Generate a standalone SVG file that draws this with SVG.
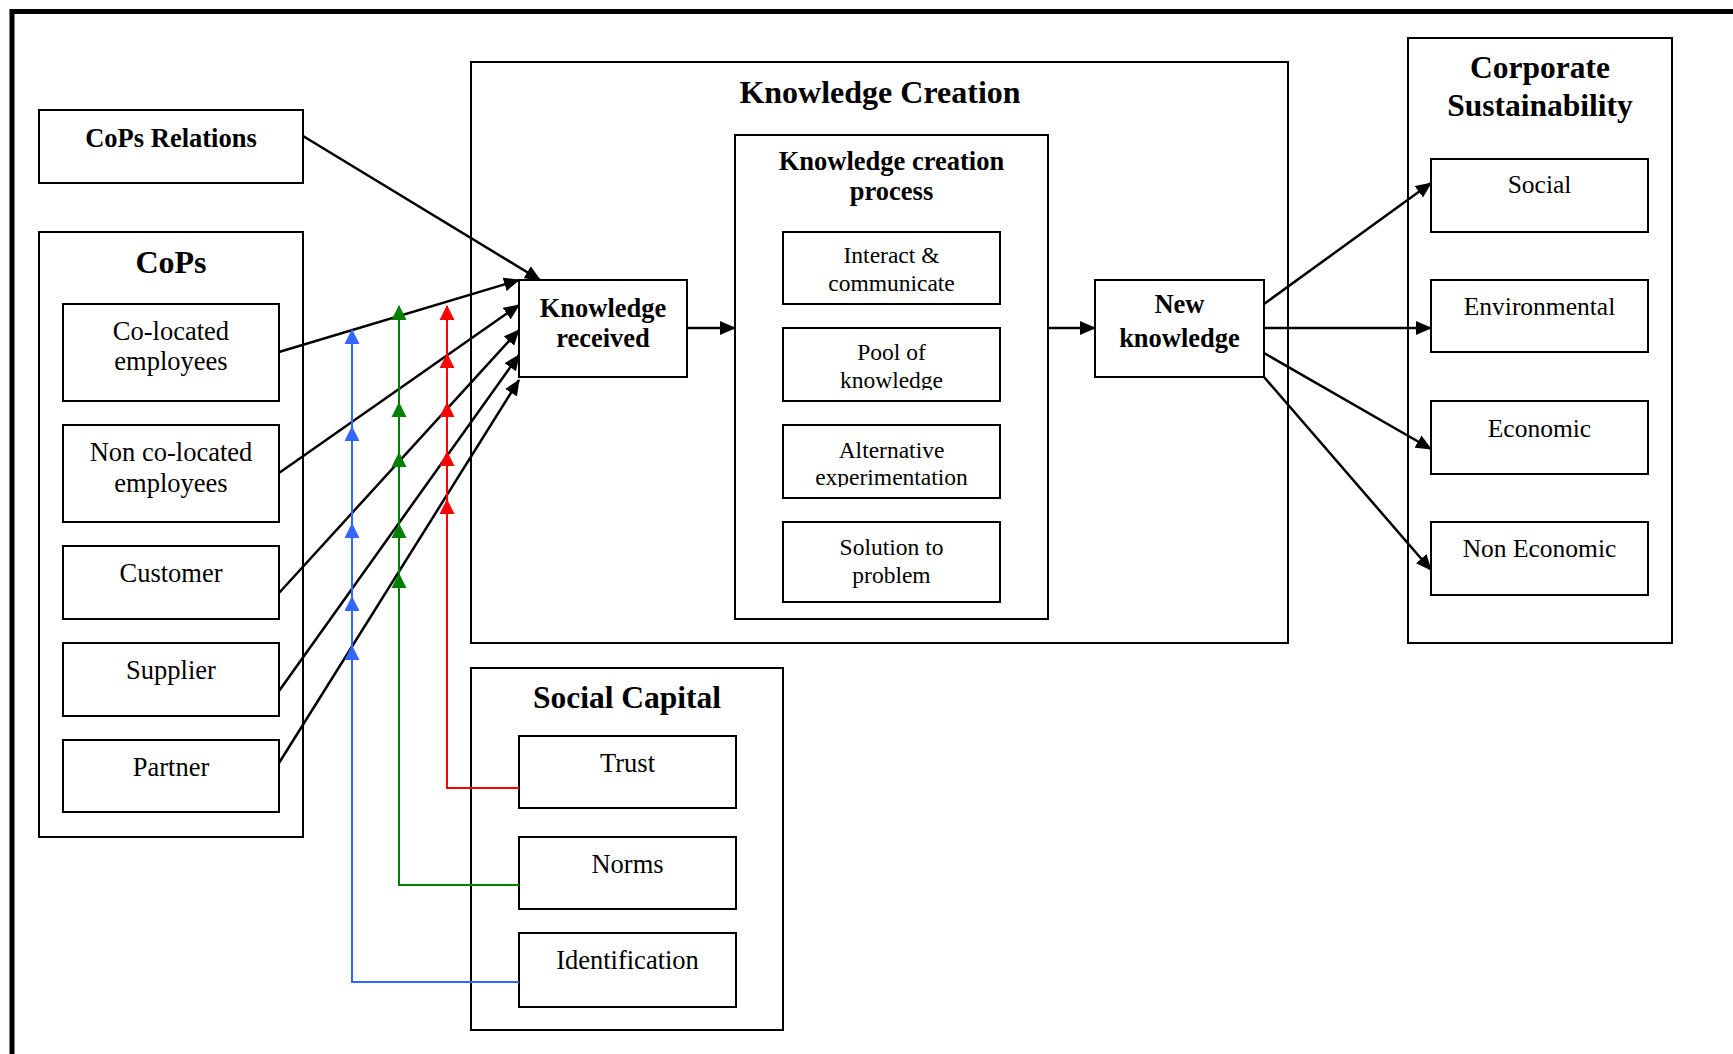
<svg xmlns="http://www.w3.org/2000/svg" xmlns:xlink="http://www.w3.org/1999/xlink" width="1733" height="1054" viewBox="0 0 1733 1054">
  <style>
    .box { fill: #fff; stroke: #000; stroke-width: 2; }
    .frame { fill: none; stroke: #000; stroke-width: 2; }
    .t { font-family: "Liberation Serif", "Times New Roman", serif; fill: #000; text-anchor: middle; }
    .b { font-weight: bold; }
    .conn { fill: none; stroke: #000; stroke-width: 2.5; marker-end: url(#ah); }
    .red { fill: none; stroke: #ff0000; stroke-width: 2; }
    .green { fill: none; stroke: #008000; stroke-width: 2; }
    .blue { fill: none; stroke: #3366ff; stroke-width: 2; }
  </style>
  <defs>
    <marker id="ah" markerUnits="userSpaceOnUse" markerWidth="16" markerHeight="14" refX="15" refY="7" orient="auto">
      <path d="M0,0 L16,7 L0,14 z" fill="#000"/>
    </marker>
    <!-- upward arrowhead, tip at origin -->
    <path id="up" d="M0,0 L-7.5,15 L7.5,15 z"/>
    <clipPath id="clipPool"><rect x="783" y="328" width="217" height="62"/></clipPath>
    <clipPath id="clipAlt"><rect x="783" y="425" width="217" height="62"/></clipPath>
  </defs>

  <rect width="1733" height="1054" fill="#fff"/>

  <!-- page frame -->
  <path d="M12,1060 L12,11.5 L1740,11.5" fill="none" stroke="#000" stroke-width="5"/>

  <!-- CoPs Relations -->
  <g id="cops-relations">
    <rect class="box" x="39" y="110" width="264" height="73"/>
    <text class="t b" x="171" y="147" font-size="26.5">CoPs Relations</text>
  </g>

  <!-- CoPs group -->
  <g id="cops">
    <rect class="frame" x="39" y="232" width="264" height="605"/>
    <text class="t b" x="171" y="273" font-size="32">CoPs</text>
  </g>
  <g id="co-located">
    <rect class="box" x="63" y="304" width="216" height="97"/>
    <text class="t" x="171" y="340" font-size="26.5">Co-located</text>
    <text class="t" x="171" y="370" font-size="26.5">employees</text>
  </g>
  <g id="non-co-located">
    <rect class="box" x="63" y="425" width="216" height="97"/>
    <text class="t" x="171" y="461" font-size="26.5">Non co-located</text>
    <text class="t" x="171" y="492" font-size="26.5">employees</text>
  </g>
  <g id="customer">
    <rect class="box" x="63" y="546" width="216" height="73"/>
    <text class="t" x="171" y="582" font-size="26.5">Customer</text>
  </g>
  <g id="supplier">
    <rect class="box" x="63" y="643" width="216" height="73"/>
    <text class="t" x="171" y="679" font-size="26.5">Supplier</text>
  </g>
  <g id="partner">
    <rect class="box" x="63" y="740" width="216" height="72"/>
    <text class="t" x="171" y="776" font-size="26.5">Partner</text>
  </g>

  <!-- Knowledge Creation group -->
  <g id="knowledge-creation">
    <rect class="frame" x="471" y="62" width="817" height="581"/>
    <text class="t b" x="880" y="103" font-size="32">Knowledge Creation</text>
  </g>
  <g id="knowledge-received">
    <rect class="box" x="519" y="280" width="168" height="97" stroke-width="2.5"/>
    <text class="t b" x="603" y="317" font-size="26.5">Knowledge</text>
    <text class="t b" x="603" y="347" font-size="26.5">received</text>
  </g>
  <g id="creation-process">
    <rect class="frame" x="735" y="135" width="313" height="484"/>
    <text class="t b" x="891.5" y="170" font-size="26.5">Knowledge creation</text>
    <text class="t b" x="891.5" y="200" font-size="26.5">process</text>
  </g>
  <g id="interact">
    <rect class="box" x="783" y="232" width="217" height="72"/>
    <text class="t" x="891.5" y="263" font-size="23.5">Interact &amp;</text>
    <text class="t" x="891.5" y="291" font-size="23.5">communicate</text>
  </g>
  <g id="pool">
    <rect class="box" x="783" y="328" width="217" height="73"/>
    <g clip-path="url(#clipPool)">
      <text class="t" x="891.5" y="360" font-size="23.5">Pool of</text>
      <text class="t" x="891.5" y="388" font-size="23.5">knowledge</text>
    </g>
  </g>
  <g id="alternative">
    <rect class="box" x="783" y="425" width="217" height="73"/>
    <g clip-path="url(#clipAlt)">
      <text class="t" x="891.5" y="458" font-size="23.5">Alternative</text>
      <text class="t" x="891.5" y="485" font-size="23.5">experimentation</text>
    </g>
  </g>
  <g id="solution">
    <rect class="box" x="783" y="522" width="217" height="80"/>
    <text class="t" x="891.5" y="555" font-size="23.5">Solution to</text>
    <text class="t" x="891.5" y="583" font-size="23.5">problem</text>
  </g>
  <g id="new-knowledge">
    <rect class="box" x="1095" y="280" width="169" height="97"/>
    <text class="t b" x="1179.5" y="313" font-size="26.5">New</text>
    <text class="t b" x="1179.5" y="347" font-size="26.5">knowledge</text>
  </g>

  <!-- Corporate Sustainability group -->
  <g id="corporate-sustainability">
    <rect class="frame" x="1408" y="38" width="264" height="605"/>
    <text class="t b" x="1540" y="78" font-size="31.5">Corporate</text>
    <text class="t b" x="1540" y="116" font-size="31.5">Sustainability</text>
  </g>
  <g id="social">
    <rect class="box" x="1431" y="159" width="217" height="73"/>
    <text class="t" x="1539.5" y="193" font-size="25.5">Social</text>
  </g>
  <g id="environmental">
    <rect class="box" x="1431" y="280" width="217" height="72"/>
    <text class="t" x="1539.5" y="315" font-size="25.5">Environmental</text>
  </g>
  <g id="economic">
    <rect class="box" x="1431" y="401" width="217" height="73"/>
    <text class="t" x="1539.5" y="437" font-size="25.5">Economic</text>
  </g>
  <g id="non-economic">
    <rect class="box" x="1431" y="522" width="217" height="73"/>
    <text class="t" x="1539.5" y="557" font-size="25.5">Non Economic</text>
  </g>

  <!-- Social Capital group -->
  <g id="social-capital">
    <rect class="frame" x="471" y="668" width="312" height="362"/>
    <text class="t b" x="627" y="708" font-size="31.5">Social Capital</text>
  </g>
  <g id="trust">
    <rect class="box" x="519" y="736" width="217" height="72"/>
    <text class="t" x="627.5" y="772" font-size="26.5">Trust</text>
  </g>
  <g id="norms">
    <rect class="box" x="519" y="837" width="217" height="72"/>
    <text class="t" x="627.5" y="873" font-size="26.5">Norms</text>
  </g>
  <g id="identification">
    <rect class="box" x="519" y="933" width="217" height="74"/>
    <text class="t" x="627.5" y="969" font-size="26.5">Identification</text>
  </g>

  <!-- connectors -->
  <g id="connectors">
    <line class="conn" x1="303" y1="136" x2="540" y2="280"/>
    <line class="conn" x1="279" y1="352" x2="519" y2="280"/>
    <line class="conn" x1="279" y1="473" x2="519" y2="305"/>
    <line class="conn" x1="279" y1="593" x2="519" y2="330"/>
    <line class="conn" x1="279" y1="691" x2="519" y2="355"/>
    <line class="conn" x1="279" y1="763" x2="519" y2="380"/>
    <line class="conn" x1="687" y1="328" x2="735" y2="328"/>
    <line class="conn" x1="1048" y1="328" x2="1095" y2="328"/>
    <line class="conn" x1="1264" y1="304" x2="1431" y2="183"/>
    <line class="conn" x1="1264" y1="328" x2="1431" y2="328"/>
    <line class="conn" x1="1264" y1="353" x2="1431" y2="449"/>
    <line class="conn" x1="1264" y1="377" x2="1431" y2="570"/>

    <!-- trust -->
    <path class="red" d="M519,788 L447,788 L447,306"/>
    <g fill="#ff0000">
      <use xlink:href="#up" x="447" y="305"/>
      <use xlink:href="#up" x="447" y="353"/>
      <use xlink:href="#up" x="447" y="402"/>
      <use xlink:href="#up" x="447" y="451"/>
      <use xlink:href="#up" x="447" y="499"/>
    </g>
    <!-- norms -->
    <path class="green" d="M519,885 L399,885 L399,306"/>
    <g fill="#008000">
      <use xlink:href="#up" x="399" y="305"/>
      <use xlink:href="#up" x="399" y="402"/>
      <use xlink:href="#up" x="399" y="452"/>
      <use xlink:href="#up" x="399" y="523"/>
      <use xlink:href="#up" x="399" y="573"/>
    </g>
    <!-- identification -->
    <path class="blue" d="M519,982 L352,982 L352,330"/>
    <g fill="#3366ff">
      <use xlink:href="#up" x="352" y="329"/>
      <use xlink:href="#up" x="352" y="426"/>
      <use xlink:href="#up" x="352" y="523"/>
      <use xlink:href="#up" x="352" y="596"/>
      <use xlink:href="#up" x="352" y="645"/>
    </g>
  </g>
</svg>
